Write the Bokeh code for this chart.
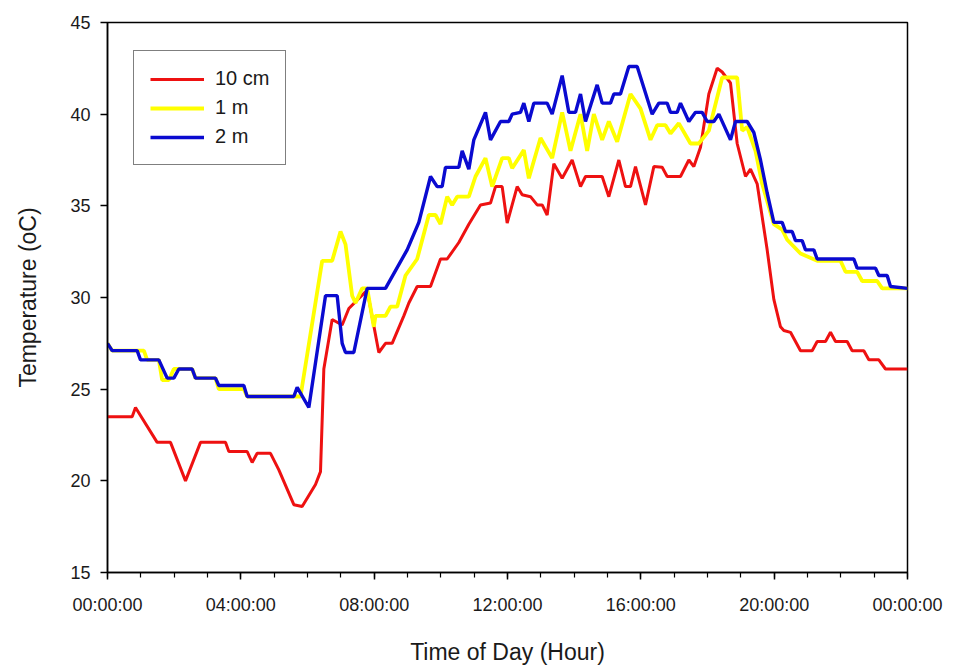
from bokeh.plotting import figure
from bokeh.models import FixedTicker, Legend, LegendItem
from bokeh.embed import file_html
from bokeh.resources import INLINE

# ---- data (hour of day, temperature in oC) ----
red_hours = [0, 0.74, 0.84, 1.49, 1.89, 2.34, 2.79, 3.54, 3.64, 4.19, 4.34, 4.49, 4.89, 5.14, 5.59, 5.84,
             6.24, 6.39, 6.49, 6.74, 7.04, 7.24, 7.79, 8.14, 8.34, 8.54, 8.89, 9.04, 9.29, 9.69, 9.99, 10.19,
             10.54, 10.84, 11.19, 11.49, 11.64, 11.84, 11.99, 12.29, 12.44, 12.69, 12.89, 13.04, 13.19, 13.39,
             13.64, 13.94, 14.19, 14.34, 14.84, 15.04, 15.34, 15.54, 15.69, 15.84, 16.14, 16.39, 16.64, 16.79,
             17.19, 17.44, 17.59, 17.79, 18.04, 18.29, 18.44, 18.69, 18.89, 19.14, 19.29, 19.49, 19.79, 19.99,
             20.19, 20.29, 20.49, 20.79, 21.14, 21.29, 21.54, 21.69, 21.84, 22.19, 22.34, 22.69, 22.84, 23.14,
             23.34, 24.0]
red_temp = [23.5, 23.5, 24.0, 22.1, 22.1, 20.0, 22.1, 22.1, 21.6, 21.6, 21.0, 21.5, 21.5, 20.6, 18.7, 18.6,
            19.8, 20.5, 26.1, 28.8, 28.5, 29.4, 30.4, 27.0, 27.5, 27.5, 29.0, 29.7, 30.6, 30.6, 32.1, 32.1,
            33.0, 34.0, 35.05, 35.15, 36.05, 36.05, 34.06, 36.05, 35.6, 35.5, 35.05, 35.05, 34.5, 37.3,
            36.5, 37.5, 36.05, 36.6, 36.6, 35.5, 37.5, 36.05, 36.05, 37.14, 35.05, 37.14, 37.1, 36.6,
            36.6, 37.5, 37.14, 38.2, 41.1, 42.5, 42.3, 41.7, 38.4, 36.6, 37.0, 36.2, 32.6, 29.9,
            28.4, 28.2, 28.1, 27.1, 27.1, 27.6, 27.6, 28.1, 27.6, 27.6, 27.1, 27.1, 26.6, 26.6,
            26.1, 26.1]

yellow_hours = [0, 0.14, 0.89, 1.09, 1.19, 1.54, 1.64, 1.84, 1.99, 2.54, 2.64, 3.24, 3.34, 4.09, 4.19, 5.79,
                6.44, 6.74, 6.99, 7.14, 7.34, 7.44, 7.64, 7.79, 7.99, 8.04, 8.34, 8.49, 8.69, 8.94, 9.29,
                9.64, 9.84, 9.99, 10.19, 10.34, 10.49, 10.84, 11.04, 11.34, 11.54, 11.84, 12.04, 12.14, 12.49,
                12.64, 12.99, 13.34, 13.64, 13.89, 14.19, 14.39, 14.59, 14.84, 15.04, 15.29, 15.69, 15.99,
                16.29, 16.49, 16.74, 16.89, 17.14, 17.49, 17.74, 18.04, 18.44, 18.89, 19.04, 19.19, 19.44,
                19.64, 19.99, 20.24, 20.39, 20.79, 21.29, 21.99, 22.14, 22.49, 22.64, 23.09, 23.24, 24.0]
yellow_temp = [27.5, 27.1, 27.1, 27.1, 26.6, 26.6, 25.5, 25.5, 26.1, 26.1, 25.6, 25.6, 25.0, 25.0, 24.6, 24.6,
               32.0, 32.0, 33.6, 32.9, 30.1, 29.7, 30.5, 30.5, 28.4, 29.0, 29.0, 29.5, 29.5, 31.2, 32.1,
               34.5, 34.5, 34.0, 35.5, 35.05, 35.5, 35.5, 36.6, 37.6, 36.05, 37.6, 37.6, 37.05, 38.04,
               36.5, 38.7, 37.6, 40.1, 38.0, 40.0, 38.0, 40.0, 38.6, 39.6, 38.5, 41.1, 40.3,
               38.6, 39.4, 39.4, 38.95, 39.5, 38.4, 38.4, 39.1, 42.0, 42.0, 39.1, 39.3, 38.0,
               36.2, 34.0, 33.7, 33.15, 32.4, 32.0, 32.0, 31.4, 31.4, 30.9, 30.9, 30.5, 30.5]

blue_hours = [0, 0.14, 0.89, 0.99, 1.54, 1.79, 1.99, 2.14, 2.54, 2.64, 3.24, 3.34, 4.09, 4.19, 5.59, 5.69,
              6.04, 6.54, 6.89, 7.04, 7.14, 7.39, 7.79, 8.34, 8.99, 9.34, 9.69, 9.89, 10.04, 10.14, 10.54,
              10.64, 10.84, 10.99, 11.34, 11.49, 11.79, 12.04, 12.14, 12.39, 12.49, 12.64, 12.79, 13.19, 13.34,
              13.64, 13.84, 14.04, 14.19, 14.34, 14.69, 14.84, 15.09, 15.19, 15.39, 15.64, 15.89, 16.34, 16.54,
              16.79, 16.89, 17.09, 17.19, 17.44, 17.64, 17.84, 17.99, 18.19, 18.34, 18.69, 18.84, 19.19, 19.39,
              19.59, 19.79, 19.99, 20.24, 20.34, 20.54, 20.64, 20.84, 20.94, 21.19, 21.29, 22.39, 22.49, 23.04,
              23.14, 23.39, 23.49, 24.0]
blue_temp = [27.5, 27.1, 27.1, 26.6, 26.6, 25.6, 25.6, 26.1, 26.1, 25.6, 25.6, 25.2, 25.2, 24.6, 24.6, 25.1,
             24.0, 30.1, 30.1, 27.5, 27.0, 27.0, 30.5, 30.5, 32.6, 34.1, 36.6, 36.05, 36.05, 37.1, 37.1,
             38.0, 37.0, 38.6, 40.1, 38.6, 39.6, 39.6, 40.0, 40.1, 40.6, 39.6, 40.6, 40.6, 40.0,
             42.1, 40.1, 40.1, 41.1, 39.6, 41.6, 40.6, 40.6, 41.1, 41.1, 42.6, 42.6, 40.0, 40.6,
             40.6, 40.1, 40.1, 40.6, 39.6, 40.1, 40.1, 39.6, 39.6, 40.0, 38.6, 39.6, 39.6, 39.0,
             37.5, 35.7, 34.1, 34.1, 33.6, 33.6, 33.1, 33.1, 32.6, 32.6, 32.1, 32.1, 31.6, 31.6,
             31.2, 31.2, 30.6, 30.5]

series_names = ["10 cm", "1 m", "2 m"]
x_major_ticks = [0, 4, 8, 12, 16, 20, 24]
x_tick_labels = ["00:00:00", "04:00:00", "08:00:00", "12:00:00", "16:00:00", "20:00:00", "00:00:00"]
x_minor_ticks = list(range(0, 25))
y_ticks = [15, 20, 25, 30, 35, 40, 45]

FONT = "Liberation Sans"
TXT = "#1a1a1a"

p = figure(width=966, height=667, output_backend="svg", toolbar_location=None,
           x_range=(0, 24), y_range=(15, 45),
           min_border_left=107, min_border_right=59, min_border_top=22, min_border_bottom=93)
p.xgrid.visible = False
p.ygrid.visible = False
p.outline_line_color = "black"
p.outline_line_width = 1.5
p.background_fill_color = "white"
p.border_fill_color = "white"

r1 = p.line(red_hours, red_temp, line_color="#ee1111", line_width=3.0)
r2 = p.line(yellow_hours, yellow_temp, line_color="#ffff00", line_width=3.8)
r3 = p.line(blue_hours, blue_temp, line_color="#0a0ad0", line_width=3.4)

xa = p.xaxis[0]
xa.ticker = FixedTicker(ticks=x_major_ticks, minor_ticks=x_minor_ticks)
xa.major_label_overrides = {t: l for t, l in zip(x_major_ticks, x_tick_labels)}
xa.axis_label = "Time of Day (Hour)"
ya = p.yaxis[0]
ya.ticker = FixedTicker(ticks=y_ticks, minor_ticks=[])
ya.axis_label = "Temperature (oC)"

for ax in (xa, ya):
    ax.axis_line_color = "black"
    ax.axis_line_width = 1.5
    ax.major_tick_line_color = "black"
    ax.major_tick_line_width = 1.5
    ax.major_tick_out = 7
    ax.major_tick_in = 0
    ax.minor_tick_line_color = "black"
    ax.minor_tick_line_width = 1.2
    ax.minor_tick_out = 5
    ax.minor_tick_in = 0
    ax.major_label_text_font = FONT
    ax.major_label_text_font_size = "18px"
    ax.major_label_text_color = TXT
    ax.axis_label_text_font = FONT
    ax.axis_label_text_font_size = "23px"
    ax.axis_label_text_font_style = "normal"
    ax.axis_label_text_color = TXT

xa.major_label_standoff = 15
xa.axis_label_standoff = 21
ya.major_label_standoff = 10
ya.axis_label_standoff = 26

legend = Legend(items=[LegendItem(label=series_names[0], renderers=[r1]),
                       LegendItem(label=series_names[1], renderers=[r2]),
                       LegendItem(label=series_names[2], renderers=[r3])],
                location=(26, 407))
legend.border_line_color = "black"
legend.border_line_width = 1.5
legend.background_fill_alpha = 1
legend.label_text_font = FONT
legend.label_text_font_size = "20px"
legend.label_text_color = TXT
legend.glyph_width = 54
legend.glyph_height = 22
legend.label_height = 22
legend.label_standoff = 11
legend.spacing = 6
legend.padding = 16
legend.margin = 0
p.add_layout(legend, "center")

open("out.html", "w").write(file_html(p, INLINE))
